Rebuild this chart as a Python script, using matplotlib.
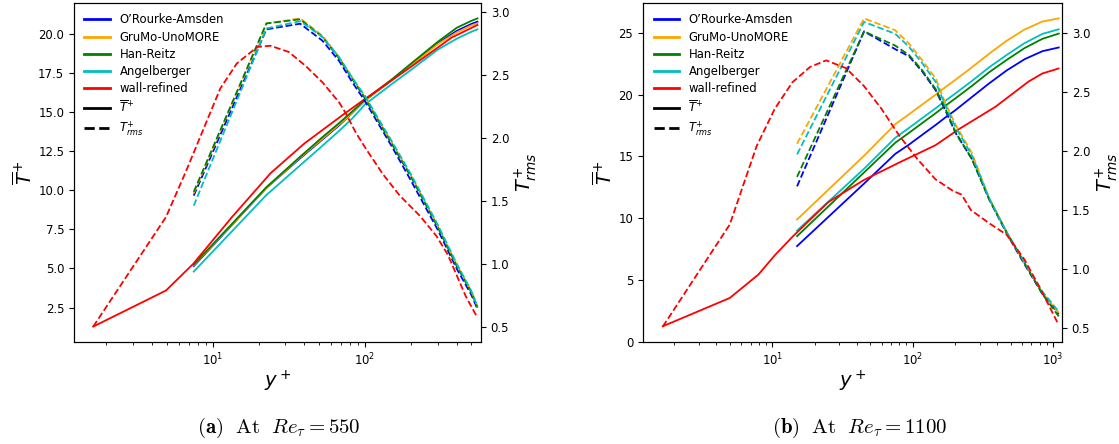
import matplotlib
matplotlib.use("Agg")
import matplotlib.pyplot as plt
from matplotlib.lines import Line2D

# ---------------- data : Re_tau = 550 ----------------
yp_wm_550 = [7.5, 22.5, 37.5, 52.5, 67.5, 82.5, 100, 150, 200, 300, 400, 500, 547.5]
T_oa_550 = [5.15, 10.15, 12.05, 13.25, 14.15, 14.95, 15.75, 17.05, 18.0, 19.4, 20.2, 20.65, 20.79]
T_gm_550 = [5.2, 10.15, 12.1, 13.3, 14.2, 14.95, 15.75, 17.05, 18.0, 19.35, 20.1, 20.55, 20.68]
T_hr_550 = [5.25, 10.2, 12.15, 13.4, 14.3, 15.05, 15.8, 17.1, 18.1, 19.5, 20.4, 20.85, 21.0]
T_an_550 = [4.8, 9.7, 11.6, 12.85, 13.8, 14.6, 15.5, 16.8, 17.7, 19.0, 19.7, 20.15, 20.3]
R_oa_550 = [1.54, 2.86, 2.905, 2.77, 2.61, 2.44, 2.29, 1.93, 1.66, 1.27, 0.96, 0.75, 0.64]
R_gm_550 = [1.56, 2.907, 2.947, 2.81, 2.64, 2.475, 2.32, 1.96, 1.70, 1.30, 0.99, 0.78, 0.66]
R_hr_550 = [1.57, 2.907, 2.94, 2.80, 2.63, 2.465, 2.31, 1.95, 1.69, 1.29, 0.98, 0.77, 0.65]
R_an_550 = [1.46, 2.867, 2.925, 2.80, 2.64, 2.475, 2.33, 1.97, 1.71, 1.31, 1.00, 0.78, 0.66]

yp_wr_550 = [1.64, 4.93, 7.45, 13.4, 24.0, 40.0, 72.0, 100, 200, 370, 547.5]
T_wr_550 = [1.28, 3.59, 5.3, 8.3, 11.1, 13.0, 14.85, 15.85, 17.9, 19.77, 20.58]
yp_wrr_550 = [1.64, 4.93, 6.6, 8.7, 11.2, 14.4, 19.6, 23.9, 31.6, 40.7, 52.5, 67.6, 75.0, 87.0, 101.6, 131, 169, 229, 294, 350, 459, 547.5]
R_wr_550 = [0.50, 1.37, 1.72, 2.07, 2.39, 2.59, 2.72, 2.73, 2.68, 2.57, 2.44, 2.28, 2.19, 2.04, 1.91, 1.71, 1.54, 1.38, 1.22, 1.07, 0.74, 0.57]

# ---------------- data : Re_tau = 1100 ----------------
yp_wm_1100 = [15, 45, 75, 94, 117, 146, 171, 202, 264, 350, 467, 625, 838, 1095]
T_oa_1100 = [7.75, 12.8, 15.2, 15.95, 16.75, 17.55, 18.15, 18.75, 19.8, 20.9, 21.95, 22.85, 23.5, 23.8]
T_gm_1100 = [9.9, 15.05, 17.6, 18.4, 19.2, 20.0, 20.6, 21.2, 22.2, 23.3, 24.35, 25.25, 25.9, 26.15]
T_hr_1100 = [8.55, 13.7, 16.1, 16.9, 17.7, 18.5, 19.1, 19.7, 20.7, 21.8, 22.8, 23.75, 24.5, 24.92]
T_an_1100 = [9.0, 14.0, 16.5, 17.3, 18.1, 18.9, 19.5, 20.1, 21.1, 22.2, 23.2, 24.15, 24.9, 25.27]
R_oa_1100 = [1.70, 3.01, 2.86, 2.80, 2.67, 2.51, 2.34, 2.15, 1.93, 1.59, 1.30, 1.04, 0.79, 0.62]
R_gm_1100 = [2.06, 3.12, 3.02, 2.907, 2.765, 2.61, 2.40, 2.22, 1.98, 1.60, 1.31, 1.05, 0.80, 0.63]
R_hr_1100 = [1.78, 3.01, 2.89, 2.81, 2.68, 2.52, 2.354, 2.156, 1.93, 1.59, 1.31, 1.05, 0.79, 0.60]
R_an_1100 = [1.97, 3.09, 2.99, 2.88, 2.74, 2.58, 2.38, 2.20, 1.96, 1.60, 1.31, 1.06, 0.81, 0.64]

yp_wr_1100 = [1.66, 4.98, 7.96, 10.4, 13.9, 25, 45, 80, 145, 213, 387, 668, 838, 1092]
T_wr_1100 = [1.27, 3.56, 5.45, 7.0, 8.5, 11.3, 13.1, 14.5, 15.9, 17.2, 19.0, 21.05, 21.7, 22.1]
yp_wrr_1100 = [1.66, 4.98, 7.73, 10.4, 13.9, 18.6, 24.2, 33.4, 44.8, 60, 80, 108, 145, 194, 223, 259, 348, 467, 625, 838, 1092]
R_wr_1100 = [0.514, 1.378, 2.04, 2.355, 2.58, 2.71, 2.765, 2.70, 2.55, 2.354, 2.13, 1.93, 1.76, 1.66, 1.63, 1.50, 1.39, 1.29, 1.08, 0.80, 0.53]

models = ["O\u2019Rourke-Amsden", "GruMo-UnoMORE", "Han-Reitz", "Angelberger"]
colors = ["blue", "orange", "green", "c"]
wr_label = "wall-refined"
wr_color = "red"

panels = [
    dict(re=550, yp=yp_wm_550, T=[T_oa_550, T_gm_550, T_hr_550, T_an_550],
         R=[R_oa_550, R_gm_550, R_hr_550, R_an_550],
         ypwr=yp_wr_550, Twr=T_wr_550, ypwrr=yp_wrr_550, Rwr=R_wr_550,
         cap=r"$\mathbf{(a)}\ \ \mathrm{At}\ \ Re_{\tau} = 550$", ylim0=None),
    dict(re=1100, yp=yp_wm_1100, T=[T_oa_1100, T_gm_1100, T_hr_1100, T_an_1100],
         R=[R_oa_1100, R_gm_1100, R_hr_1100, R_an_1100],
         ypwr=yp_wr_1100, Twr=T_wr_1100, ypwrr=yp_wrr_1100, Rwr=R_wr_1100,
         cap=r"$\mathbf{(b)}\ \ \mathrm{At}\ \ Re_{\tau} = 1100$", ylim0=0),
]

fig = plt.figure(figsize=(11.19, 4.44), dpi=100)
rects = [[74/1119, 1-342/444, 407/1119, 339/444],
         [643/1119, 1-342/444, 419/1119, 339/444]]
cap_x = [279/1119, 860/1119]
fs = 8.4
lw = 1.3

for p, rect, cx in zip(panels, rects, cap_x):
    ax = fig.add_axes(rect)
    ax2 = ax.twinx()
    for Tm, c in zip(p["T"], colors):
        ax.plot(p["yp"], Tm, color=c, lw=lw, ls="-")
    ax.plot(p["ypwr"], p["Twr"], color=wr_color, lw=lw, ls="-")
    for Rm, c in zip(p["R"], colors):
        ax2.plot(p["yp"], Rm, color=c, lw=lw, ls="--")
    ax2.plot(p["ypwrr"], p["Rwr"], color=wr_color, lw=lw, ls="--")
    ax.set_xscale("log")
    ax.set_xlim(right=1.05 * p["re"])
    if p["ylim0"] is not None:
        ax.set_ylim(bottom=p["ylim0"])
    ax.tick_params(labelsize=fs)
    ax2.tick_params(labelsize=fs)
    ax.set_xlabel(r"$y^+$", fontsize=14, labelpad=0)
    ax.set_ylabel(r"$\overline{T}^{+}$", fontsize=14, labelpad=2)
    ax2.set_ylabel(r"$T^{+}_{rms}$", fontsize=14, labelpad=2)
    handles = [Line2D([], [], color=c, lw=2) for c in colors]
    handles.append(Line2D([], [], color=wr_color, lw=2))
    handles.append(Line2D([], [], color="black", lw=2, ls="-"))
    handles.append(Line2D([], [], color="black", lw=2, ls="--"))
    labels = models + [wr_label, r"$\overline{T}^{+}$", r"$T^{+}_{rms}$"]
    ax2.legend(handles, labels, loc="upper left", frameon=False, fontsize=fs,
               labelspacing=0.36, handlelength=2.2)
    fig.text(cx, 1 - 428/444, p["cap"], ha="center", va="center",
             fontsize=15, math_fontfamily="cm")

fig.savefig("out.png", dpi=100)
